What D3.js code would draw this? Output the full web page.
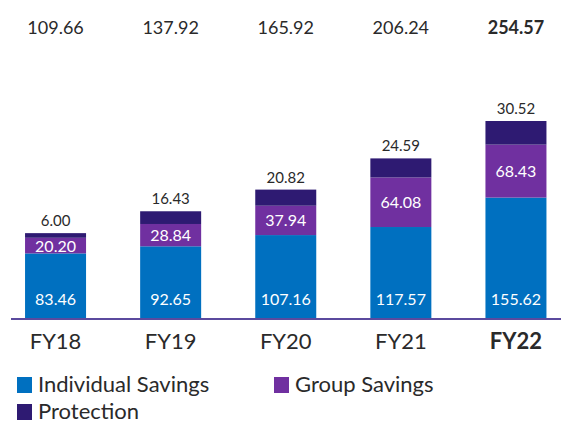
<!DOCTYPE html>
<html>
<head>
<meta charset="utf-8">
<script src="https://cdnjs.cloudflare.com/ajax/libs/d3/7.8.5/d3.min.js"></script>
<style>
body { margin: 0; background: #fff; }
svg { display: block; font-family: Lato, sans-serif; }
</style>
</head>
<body>
<script>
var years = ["FY18", "FY19", "FY20", "FY21", "FY22"];
var totals = ["109.66", "137.92", "165.92", "206.24", "254.57"];
var individual = [83.46, 92.65, 107.16, 117.57, 155.62];
var group = [20.20, 28.84, 37.94, 64.08, 68.43];
var protection = [6.00, 16.43, 20.82, 24.59, 30.52];
var seriesNames = ["Individual Savings", "Group Savings", "Protection"];
var colors = ["#0070c0", "#7030a0", "#2e1a72"];

var width = 561, height = 425, base = 318;

var svg = d3.select("body").append("svg")
  .attr("width", width).attr("height", height);

var rows = years.map(function(y, i) {
  return {year: y, individual: individual[i], group: group[i], protection: protection[i]};
});
var stack = d3.stack().keys(["individual", "group", "protection"])(rows);

var x = d3.scaleBand().domain(years).range([-2, 573.5]).paddingInner(0.47).paddingOuter(0.235);
var y = d3.scaleLinear().domain([0, 254.57]).range([base, 121]);

// bars
svg.selectAll("g.layer").data(stack).enter().append("g")
  .attr("fill", function(d, i) { return colors[i]; })
  .selectAll("rect").data(function(d) { return d; }).enter().append("rect")
  .attr("x", function(d) { return x(d.data.year); })
  .attr("width", x.bandwidth())
  .attr("y", function(d) { return y(d[1]); })
  .attr("height", function(d) { return y(d[0]) - y(d[1]); });

// axis line
svg.append("line")
  .attr("x1", 11).attr("x2", width).attr("y1", base + 1).attr("y2", base + 1)
  .attr("stroke", "#5b4a9e").attr("stroke-width", 2);

function cx(d) { return x(d.data.year) + x.bandwidth() / 2; }

// individual labels near bottom
svg.selectAll("text.ind").data(stack[0]).enter().append("text")
  .attr("x", cx).attr("y", base - 13)
  .attr("text-anchor", "middle").attr("fill", "#fff")
  .style("font-size", "16px")
  .text(function(d) { return d.data.individual.toFixed(2); });

// group labels centered in segment
svg.selectAll("text.grp").data(stack[1]).enter().append("text")
  .attr("x", cx).attr("y", function(d) { return (y(d[0]) + y(d[1])) / 2 + 6; })
  .attr("text-anchor", "middle").attr("fill", "#fff")
  .style("font-size", "16px")
  .text(function(d) { return d.data.group.toFixed(2); });

// protection labels above bar
svg.selectAll("text.pro").data(stack[2]).enter().append("text")
  .attr("x", cx).attr("y", function(d) { return y(d[1]) - 7; })
  .attr("text-anchor", "middle").attr("fill", "#2a2a2a")
  .style("font-size", "15px")
  .text(function(d) { return d.data.protection.toFixed(2); });

// totals row
svg.selectAll("text.tot").data(years).enter().append("text")
  .attr("x", function(d) { return x(d) + x.bandwidth() / 2; }).attr("y", 34)
  .attr("text-anchor", "middle").attr("fill", "#2a2a2a")
  .style("font-size", "18px")
  .style("font-weight", function(d, i) { return i === 4 ? "bold" : "normal"; })
  .text(function(d, i) { return totals[i]; });

// category labels
svg.selectAll("text.cat").data(years).enter().append("text")
  .attr("x", function(d) { return x(d) + x.bandwidth() / 2; }).attr("y", 349)
  .attr("text-anchor", "middle").attr("fill", "#2a2a2a")
  .style("font-size", "22px")
  .style("font-weight", function(d, i) { return i === 4 ? "bold" : "normal"; })
  .text(function(d) { return d; });

// legend
var legendPos = [[17, 377], [274, 377], [17, 404]];
var lg = svg.selectAll("g.legend").data(seriesNames).enter().append("g")
  .attr("transform", function(d, i) { return "translate(" + legendPos[i][0] + "," + legendPos[i][1] + ")"; });
lg.append("rect").attr("width", 15).attr("height", 16)
  .attr("fill", function(d, i) { return colors[i]; });
lg.append("text").attr("x", 21).attr("y", 15)
  .attr("fill", "#2a2a2a").style("font-size", "22px")
  .text(function(d) { return d; });
</script>
</body>
</html>
